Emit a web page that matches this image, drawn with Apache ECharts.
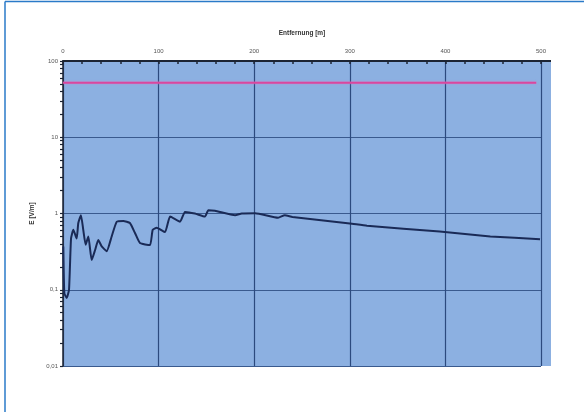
<!DOCTYPE html>
<html>
<head>
<meta charset="utf-8">
<style>
html,body{margin:0;padding:0;background:#fff;}
#chart{width:584px;height:412px;}
</style>
<script src="https://cdn.jsdelivr.net/npm/echarts@6/dist/echarts.min.js"></script>
</head>
<body>
<div id="chart"></div>
<script>
// distance [m]
var distance = [0.3, 1.4, 3.9, 6.3, 8.4, 10.8, 14.3, 16, 18.8, 21.2, 23.7, 26.5, 30, 33.5, 36.9, 40.5, 45.7, 50.9, 56.2, 63.1, 70, 75.3, 80.5, 91, 93.8, 98, 106.7, 112, 122.4, 127.6, 138, 148.5, 152, 159, 180, 187, 201, 225, 232, 240, 300, 318, 394, 447, 499];
// field strength E [V/m]
var fieldE = [0.37, 0.09, 0.078, 0.1, 0.47, 0.61, 0.47, 0.75, 0.95, 0.61, 0.39, 0.5, 0.245, 0.33, 0.45, 0.37, 0.32, 0.5, 0.78, 0.8, 0.75, 0.555, 0.41, 0.385, 0.61, 0.65, 0.57, 0.91, 0.78, 1.05, 1.0, 0.91, 1.1, 1.09, 0.95, 1.0, 1.01, 0.88, 0.95, 0.9, 0.74, 0.69, 0.58, 0.5, 0.46];
// limit value line
var limitX = [0, 495];
var limitE = 52;
var xTicks = [0, 100, 200, 300, 400, 500];
var yTickLabels = {'0.01': '0,01', '0.1': '0,1', '1': '1', '10': '10', '100': '100'};

var minorY = [];
[0.01, 0.1, 1, 10].forEach(function (d) {
  for (var k = 1; k <= 9; k++) minorY.push(+(d * k).toPrecision(3));
});
minorY.push(100);
var minorX = [];
for (var v = 0; v <= 500; v += 20) minorX.push(v);

var chart = echarts.init(document.getElementById('chart'), null, {renderer: 'canvas'});
var fam = 'Liberation Sans, Arial, sans-serif';
var lblFont = {fontSize: 6, color: '#555', fontFamily: fam};
var nameFont = {fontSize: 6.5, fontWeight: 'bold', color: '#333', fontFamily: fam};
chart.setOption({
  animation: false,
  backgroundColor: '#ffffff',
  graphic: [
    {type: 'rect', z: -10, shape: {x: 63, y: 61, width: 488, height: 305}, style: {fill: '#8cb0e1'}},
    {type: 'line', z: -5, shape: {x1: 5, y1: 1.5, x2: 584, y2: 1.5}, style: {stroke: '#2a7ac8', lineWidth: 1.5}},
    {type: 'line', z: -5, shape: {x1: 5, y1: 1.5, x2: 5, y2: 412}, style: {stroke: '#2a7ac8', lineWidth: 1.5}},
    {type: 'line', z: -5, shape: {x1: 541, y1: 61, x2: 551, y2: 61}, style: {stroke: '#1c2433', lineWidth: 2}}
  ],
  grid: {left: 63, top: 61, width: 478, height: 305, show: false},
  xAxis: [{
    type: 'value', position: 'top', min: 0, max: 500, interval: 100,
    name: 'Entfernung [m]', nameLocation: 'middle', nameGap: 24, nameTextStyle: nameFont,
    axisLine: {show: true, lineStyle: {color: '#1c2433', width: 2}},
    axisTick: {show: false},
    axisLabel: Object.assign({margin: 7, customValues: xTicks}, lblFont),
    splitLine: {show: true, lineStyle: {color: '#2c4a7e', width: 1.2}}
  }, {
    type: 'value', position: 'top', min: 0, max: 500, interval: 100,
    axisLine: {show: false},
    axisTick: {show: true, inside: true, length: 3, customValues: minorX, lineStyle: {color: '#1c2433', width: 1.5}},
    axisLabel: {show: false},
    splitLine: {show: false}
  }],
  yAxis: [{
    type: 'log', logBase: 10, min: 0.01, max: 100,
    name: 'E [V/m]', nameLocation: 'middle', nameGap: 27, nameRotate: 90, nameTextStyle: nameFont,
    axisLine: {show: true, lineStyle: {color: '#1c2433', width: 1.5}},
    axisTick: {show: false},
    axisLabel: Object.assign({margin: 5, formatter: function (v) {
      var key = String(+v.toPrecision(3));
      return yTickLabels[key] !== undefined ? yTickLabels[key] : '';
    }}, lblFont),
    splitLine: {show: true, lineStyle: {color: '#3a5a8e', width: 1.2}}
  }, {
    type: 'log', logBase: 10, min: 0.01, max: 100, position: 'left',
    axisLine: {show: false},
    axisTick: {show: true, inside: false, length: 3, customValues: minorY, lineStyle: {color: '#1c2433', width: 1.2}},
    axisLabel: {show: false},
    splitLine: {show: false}
  }],
  series: [
    {
      type: 'line', name: 'Grenzwert', symbol: 'none', z: 3,
      data: limitX.map(function (x) { return [x, limitE]; }),
      lineStyle: {color: '#d9479e', width: 2, shadowColor: 'rgba(230,120,200,0.7)', shadowBlur: 2}
    },
    {
      type: 'line', name: 'E', symbol: 'none', z: 4, smooth: 0.15,
      data: distance.map(function (d, i) { return [d, fieldE[i]]; }),
      lineStyle: {color: '#1a2a56', width: 2}
    }
  ]
});
</script>
</body>
</html>
